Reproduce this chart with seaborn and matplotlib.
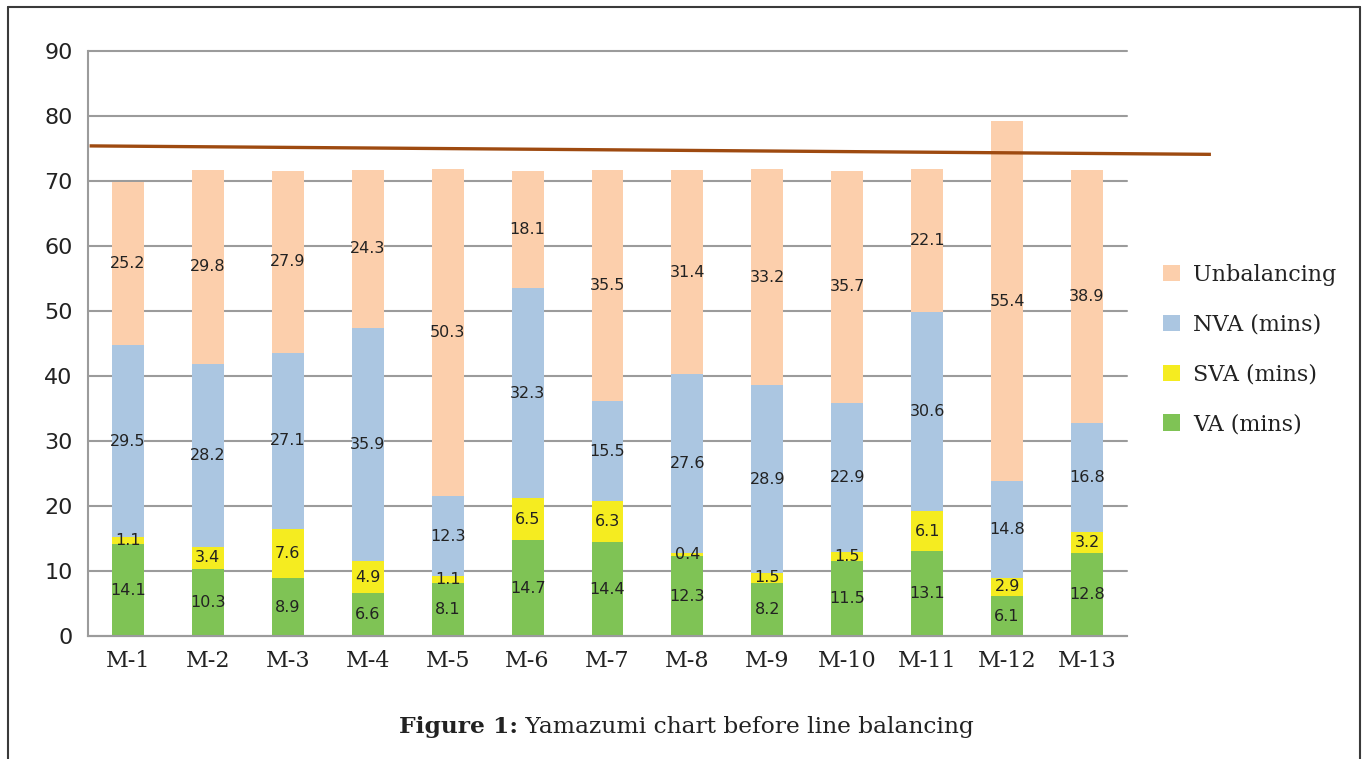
import matplotlib
matplotlib.use("Agg")
import matplotlib.pyplot as plt
from matplotlib.patches import Patch
from matplotlib.lines import Line2D
import numpy as np
import pandas as pd
import seaborn as sns

# Work-content breakdown per machine (minutes)
machines = ["M-1", "M-2", "M-3", "M-4", "M-5", "M-6", "M-7",
            "M-8", "M-9", "M-10", "M-11", "M-12", "M-13"]
va = [14.1, 10.3, 8.9, 6.6, 8.1, 14.7, 14.4, 12.3, 8.2, 11.5, 13.1, 6.1, 12.8]
sva = [1.1, 3.4, 7.6, 4.9, 1.1, 6.5, 6.3, 0.4, 1.5, 1.5, 6.1, 2.9, 3.2]
nva = [29.5, 28.2, 27.1, 35.9, 12.3, 32.3, 15.5, 27.6, 28.9, 22.9, 30.6, 14.8, 16.8]
unbalancing = [25.2, 29.8, 27.9, 24.3, 50.3, 18.1, 35.5, 31.4, 33.2, 35.7, 22.1, 55.4, 38.9]

# Takt time line, drawn from the first to the last station
takt_time = [75.4, 74.1]

series_names = ["VA (mins)", "SVA (mins)", "NVA (mins)", "Unbalancing"]
series_values = [va, sva, nva, unbalancing]
series_colors = ["#7fc355", "#f5ec20", "#abc6e1", "#fccfac"]

sns.set_style("white")
plt.rcParams["font.family"] = ["DejaVu Sans"]

W, H = 1362, 759
fig = plt.figure(figsize=(W / 100, H / 100), dpi=100)
ax = fig.add_axes([88 / W, 1 - 636 / H, (1127 - 88) / W, (636 - 51) / H])

grid_c = "#9b9b9b"
for y in range(0, 91, 10):
    ax.axhline(y, color=grid_c, lw=1.5, zorder=0, clip_on=False)

# Stacked bars: draw cumulative totals from the top segment down
cum = np.zeros(len(machines))
cums = []
for vals in series_values:
    cum = cum + np.array(vals)
    cums.append(cum.copy())

for name, total, color in reversed(list(zip(series_names, cums, series_colors))):
    sns.barplot(x=machines, y=total, color=color, width=0.4, ax=ax,
                saturation=1, zorder=2, edgecolor="none", linewidth=0)

# Value labels centred in each segment
bottom = np.zeros(len(machines))
for vals in series_values:
    v = np.array(vals)
    for i, val in enumerate(v):
        ax.text(i, bottom[i] + val / 2, f"{val:g}", ha="center", va="center",
                fontsize=11.5, color="#222222", zorder=4)
    bottom = bottom + v

# Takt time line extends beyond the last station
ax.plot([-0.48, 13.55], takt_time, color="#9e4a10", lw=2.4,
        clip_on=False, zorder=5, solid_capstyle="butt")

ax.set_xlim(-0.5, 12.5)
ax.set_ylim(0, 90)
ax.set_yticks(range(0, 91, 10))
ax.set_xticks(np.arange(-0.5, 13, 1), minor=False)
ax.set_xticklabels([])
ax.set_xticks(np.arange(len(machines)), minor=True)
ax.set_xticklabels(machines, minor=True, family="DejaVu Serif", fontsize=16,
                   color="#222222")
ax.tick_params(axis="x", which="minor", length=0, pad=10)
ax.tick_params(axis="x", which="major", length=7, width=1.5, color=grid_c,
               direction="out")
ax.tick_params(axis="y", length=7, width=1.5, color=grid_c, labelsize=16,
               labelcolor="#222222", pad=4)
ax.set_xlabel("")
ax.set_ylabel("")
for s in ["top", "right"]:
    ax.spines[s].set_visible(False)
for s in ["left", "bottom"]:
    ax.spines[s].set_color(grid_c)
    ax.spines[s].set_linewidth(1.5)

# Legend
handles = [Patch(facecolor=c, edgecolor="none") for c in reversed(series_colors)]
labels = list(reversed(series_names))
fig.legend(handles, labels, loc="upper left",
           bbox_to_anchor=(1143 / W, 1 - 244 / H), frameon=False,
           prop={"family": "DejaVu Serif", "size": 16},
           handlelength=0.75, handleheight=0.75, handletextpad=0.6,
           labelspacing=1.25, labelcolor="#222222")

# Outer frame
frame_c = "#3a3a3a"
fig.add_artist(Line2D([8 / W, 8 / W], [0, 1 - 7 / H], transform=fig.transFigure,
                      color=frame_c, lw=1.5))
fig.add_artist(Line2D([8 / W, 1360 / W], [1 - 7 / H, 1 - 7 / H],
                      transform=fig.transFigure, color=frame_c, lw=1.5))
fig.add_artist(Line2D([1360 / W, 1360 / W], [0, 1 - 7 / H],
                      transform=fig.transFigure, color=frame_c, lw=1.5))

# Caption
cap = fig.text(399 / W, 1 - 733 / H, "Figure 1:", family="DejaVu Serif",
               fontweight="bold", fontsize=16.8, color="#222222", va="baseline")
fig.text(0, 0, "")
plt.annotate(" Yamazumi chart before line balancing", xy=(1, 0),
             xycoords=cap, va="bottom", ha="left",
             family="DejaVu Serif", fontsize=16.8, color="#222222")

fig.savefig("out.png", dpi=100)
